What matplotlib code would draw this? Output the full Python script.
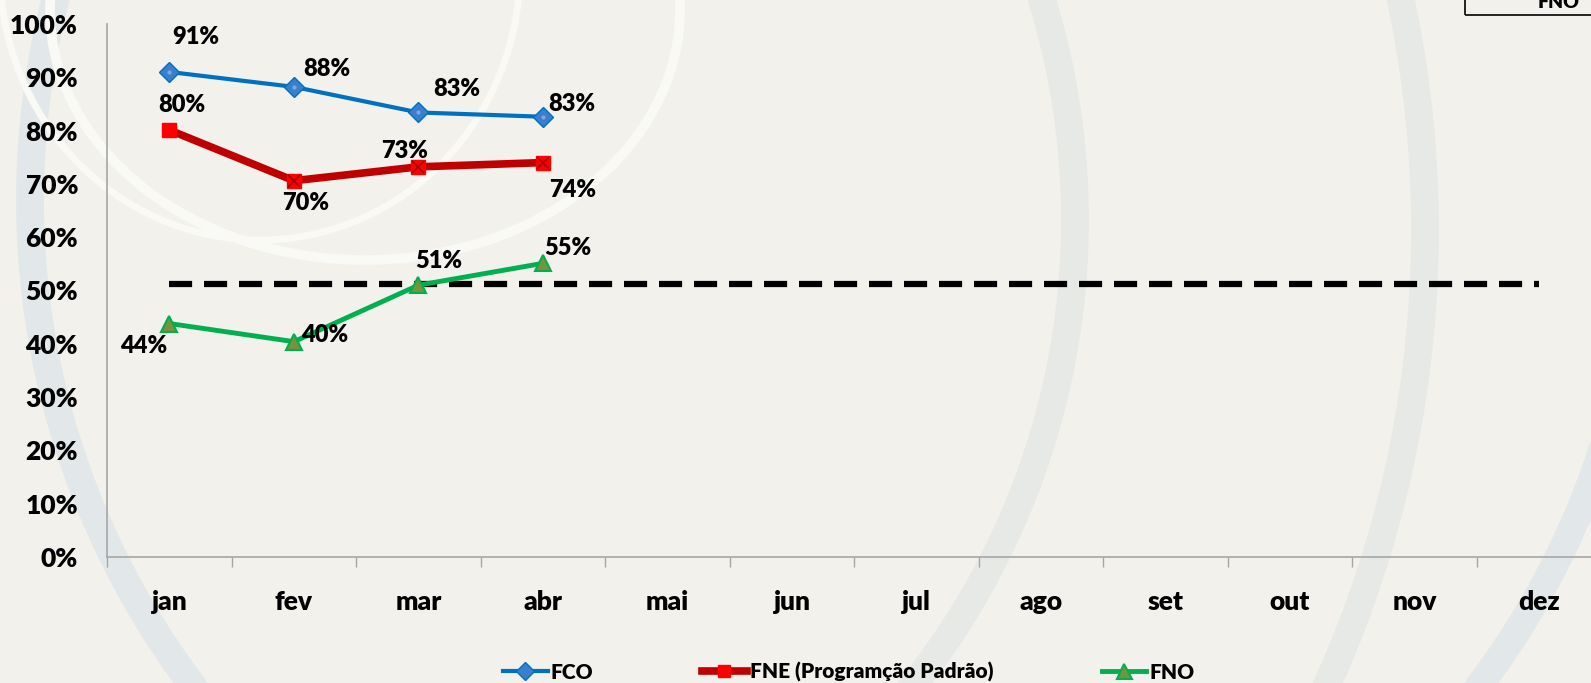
import numpy as np
import matplotlib.pyplot as plt
from matplotlib.patches import Ellipse, Rectangle
from matplotlib.ticker import FixedLocator, PercentFormatter

plt.switch_backend('agg')
plt.rcParams['font.family'] = ['Lato', 'DejaVu Sans']
plt.rcParams['font.weight'] = 'heavy'

# data
months = ['jan', 'fev', 'mar', 'abr', 'mai', 'jun', 'jul', 'ago', 'set', 'out', 'nov', 'dez']
fco = [91.0, 88.2, 83.4, 82.6]
fne = [80.1, 70.6, 73.2, 74.0]
fno = [43.8, 40.4, 51.0, 55.1]
meta = [51.2] * 12
fco_lbl = ['91%', '88%', '83%', '83%']
fne_lbl = ['80%', '70%', '73%', '74%']
fno_lbl = ['44%', '40%', '51%', '55%']
yticks = [0, 10, 20, 30, 40, 50, 60, 70, 80, 90, 100]

# label offsets in pixels (right, down)
fco_off = [(26, -35), (33, -18), (38, -23), (29, -13)]
fne_off = [(12, -25), (12, 22), (-14, -16), (30, 27)]
fno_off = [(-26, 22), (31, -7), (20, -24), (25, -15)]

W, H = 1591, 683
bgcol = '#F3F1EB'
fig = plt.figure(figsize=(W / 100, H / 100), dpi=100, facecolor=bgcol)

# background decoration (faint arcs)
bg = fig.add_axes([0, 0, 1, 1], zorder=0)
bg.set_xlim(0, W)
bg.set_ylim(H, 0)
bg.axis('off')
bg.set_facecolor(bgcol)
for (cx, cy, w, h, col, lw) in [(325, 220, 1500, 1500, '#E7E9E6', 20),
                                (320, 230, 2210, 2210, '#E7E9E6', 20),
                                (836, 200, 1612, 1612, '#E2E8EA', 20),
                                (365, 10, 630, 500, '#F9F9F5', 7),
                                (260, -30, 520, 540, '#F9F9F5', 5)]:
    bg.add_patch(Ellipse((cx, cy), w, h, fill=False, ec=col, lw=lw))

ax = fig.add_axes([107.2 / W, 1 - 557 / H, 1494 / W, 533 / H], zorder=1)
ax.set_facecolor('none')
x = np.arange(len(months))

ax.plot(x, meta, color='black', lw=4.5, linestyle=(0, (3.7, 1.9)), zorder=2)
ax.plot(x[:4], fco, color='#0070C0', lw=3, marker='D', ms=10,
        mfc='#3A7FCC', mec='#0070C0', label='FCO', zorder=3)
ax.plot(x[:4], fco, ls='none', marker='o', ms=3, mfc='#7FA6DA', mec='none', zorder=4)
ax.plot(x[:4], fne, color='#C00000', lw=5.5, marker='s', ms=10,
        mfc='#FF0000', mec='#FF0000', label='FNE (Programção Padrão)', zorder=3)
ax.plot(x[1:4], fne[1:], ls='none', marker='x', ms=9, mew=1.2, mec='#A00000', zorder=4)
ax.plot(x[:4], fno, color='#00B050', lw=3.5, marker='^', ms=12,
        mfc='#77933C', mec='#00B050', mew=1.5, label='FNO', zorder=3)

for vals, lbls, offs in [(fco, fco_lbl, fco_off), (fne, fne_lbl, fne_off), (fno, fno_lbl, fno_off)]:
    for i in range(len(vals)):
        ax.annotate(lbls[i], (x[i], vals[i]), xytext=(offs[i][0], -offs[i][1]),
                    textcoords='offset pixels', ha='center', va='center',
                    fontsize=17, fontweight='heavy', zorder=5)

ax.set_xlim(-0.5, 11.5)
ax.set_ylim(0, 100)
ax.set_xticks(x)
ax.set_xticklabels(months)
ax.xaxis.set_minor_locator(FixedLocator(np.arange(-0.5, 12, 1)))
ax.set_yticks(yticks)
ax.yaxis.set_major_formatter(PercentFormatter(decimals=0))
ax.tick_params(axis='x', which='major', length=0, pad=24, labelsize=19)
ax.tick_params(axis='x', which='minor', length=7, width=1, color='#A6A6A6', direction='out')
ax.tick_params(axis='y', length=0, pad=21, labelsize=19)
for s in ['top', 'right']:
    ax.spines[s].set_visible(False)
for s in ['left', 'bottom']:
    ax.spines[s].set_color('#A6A6A6')
    ax.spines[s].set_linewidth(1.2)
ax.grid(False)

handles, labels = ax.get_legend_handles_labels()
fig.legend(handles, labels, loc='center left', bbox_to_anchor=(503 / W, 1 - 672 / H),
           ncol=3, frameon=False, fontsize=15, handlelength=2.15, handletextpad=0.15,
           columnspacing=5.2, borderpad=0, borderaxespad=0, markerscale=0.9)

# clipped box in the top right corner
fig.add_artist(Rectangle((1465 / W, 1 - 15 / H), 200 / W, 30 / H, transform=fig.transFigure,
                         fill=False, ec='black', lw=1.2))
fig.text(1559 / W, 1 - 8.5 / H, 'FNO', ha='center', va='baseline', fontsize=14, fontweight='heavy')

fig.savefig('out.png', dpi=100, facecolor=bgcol)
